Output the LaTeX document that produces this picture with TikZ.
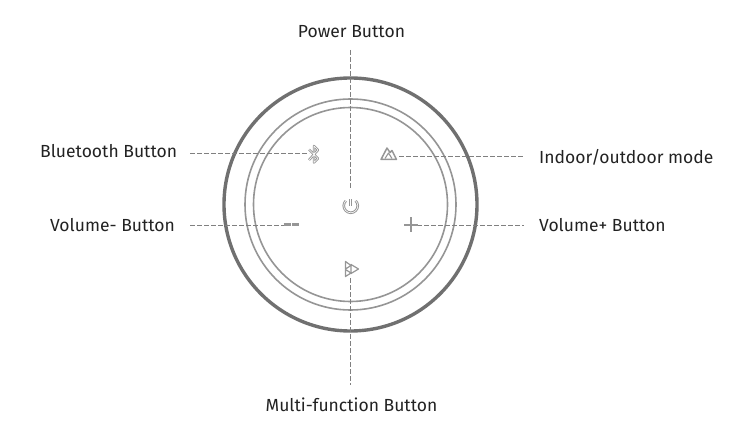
\documentclass[tikz,border=0pt]{standalone}
\usepackage{fontspec}
\setmainfont{Fira Sans}
\definecolor{lead}{HTML}{808080}
\definecolor{ring}{HTML}{959595}
\definecolor{outer}{HTML}{707070}
\definecolor{icon}{HTML}{969696}
\definecolor{txt}{HTML}{222222}
\tikzset{
  lbl/.style={font=\fontsize{17.5}{20}\selectfont,text=txt,inner sep=0pt},
  leader/.style={draw=lead,line width=0.9pt,dash pattern=on 5pt off 2pt},
  ico/.style={draw=icon,line width=1.3pt,line join=round},
}
\begin{document}
\begin{tikzpicture}[x=1pt,y=-1pt]
\useasboundingbox (0,0) rectangle (738,430);
\def\cx{350.5}\def\cy{204.5}
% rings
\draw[outer,line width=3.4pt] (\cx,\cy) circle[radius=126.5];
\draw[ring,line width=1.6pt] (\cx,\cy) circle[radius=105.5];
\draw[ring,line width=1.6pt] (\cx,\cy) circle[radius=97];
% labels
\node[lbl] (pw) at (351.5,32) {Power Button};
\node[lbl,anchor=west] (bt) at (40,151) {Bluetooth Button};
\node[lbl,anchor=west] (io) at (539,157) {Indoor/outdoor mode};
\node[lbl,anchor=west] (vm) at (50,225) {Volume- Button};
\node[lbl,anchor=west] (vp) at (539,225) {Volume+ Button};
\node[lbl] (mf) at (351.5,405) {Multi-function Button};
% anchors at icons
\coordinate (pwi) at (350.5,188);
\coordinate (bti) at (309,153);
\coordinate (ioi) at (399,156);
\coordinate (vpi) at (417,225);
\coordinate (mfi) at (350.5,278);
\draw[leader] (350.5,50) -- (pwi);
\draw[leader] (190,153) -- (bti);
\draw[leader] (ioi) -- (524,156);
\draw[leader] (190,225) -- (284,225);
\draw[leader] (vpi) -- (524,225);
\draw[leader] (mfi) -- (350.5,385);
% bluetooth icon
\def\btpath{(309,149.5) -- (318,158.5) -- (314,162.5) -- (314,146) -- (318,150) -- (309,160)}
\draw[ico,line width=2.4pt] \btpath;
\draw[white,line width=0.6pt,line join=round] \btpath;
% mountain icon
\draw[ico,line width=1.5pt] (381,159.5) -- (387,148) -- (390,152.5) -- (392,150.5) -- (396.5,159.5) -- cycle;
\draw[ico,line width=1.1pt] (385,158.5) -- (388.5,153) -- (392,158.5);
% power icon
\draw[ico,line width=2.6pt] (345.8,200.8) arc[start angle=225,end angle=-45,radius=7];
\draw[white,line width=0.6pt] (345.8,200.8) arc[start angle=225,end angle=-45,radius=7];
\draw[ico,line width=2.6pt] (350.7,199.5) -- (350.7,206.5);
\draw[white,line width=0.6pt] (350.7,199.5) -- (350.7,206.5);
% minus
\draw[ico,line width=3pt] (283.5,225) -- (298.5,225);
\draw[white,line width=0.7pt] (291,223) -- (291,227);
% plus
\draw[ico,line width=2.4pt] (404,225) -- (418,225) (411,217.5) -- (411,232.5);
% multi icon
\draw[ico,line width=1.2pt] (345.5,261.5) -- (351,265.5) -- (345.5,269) -- cycle;
\draw[ico,line width=1.2pt] (345.5,269.5) -- (351,273) -- (345.5,276.5) -- cycle;
\draw[ico,line width=1.2pt] (351,264.5) -- (358.5,269) -- (351,273.5) -- cycle;
\end{tikzpicture}
\end{document}
